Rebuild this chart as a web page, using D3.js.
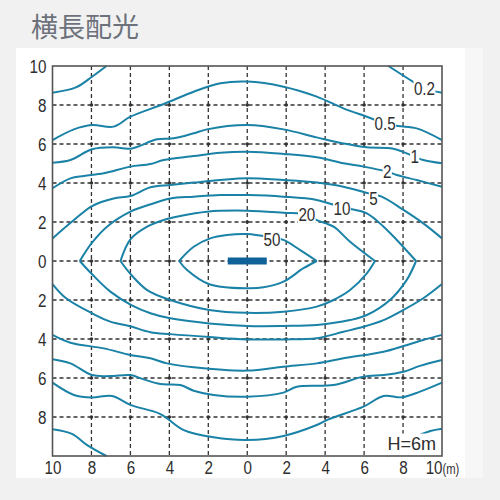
<!DOCTYPE html>
<html><head><meta charset="utf-8">
<script src="https://cdn.jsdelivr.net/npm/d3@7"></script>
<style>
html,body{margin:0;padding:0;background:#f1f1f2;}
svg{display:block;}
</style></head>
<body>
<svg id="chart" width="500" height="500"></svg>
<script>
// ---- data ----
const title = "横長配光";
const xTicks = [-10,-8,-6,-4,-2,0,2,4,6,8,10];
const yTicks = [10,8,6,4,2,0,-2,-4,-6,-8];
const levels = ["0.2","0.5","1","2","5","10","20","50"];
const luminaire = [-1, 1];
const heightNote = "H=6m";

const c02 = [
  [[-10,8.63],[-8.8,8.9],[-7.97,9.45],[-7.23,10]],
  [[7.25,10],[8.5,9.2],[9.1,8.85],[10,8.63]],
  [[-10,-8.63],[-9.0,-8.87],[-8.22,-9.44],[-7.23,-10]],
  [[7.23,-10],[7.85,-9.55],[8.6,-9.05],[9.4,-8.72],[10,-8.6]]
];
const c05 = [
  [[-10,6.2],[-8.9,6.75],[-7.97,6.97],[-6.86,6.89],[-6,7.4],[-4.29,8.05],[-2.75,8.68],[-1.38,9.11],[0,9.2],[1.86,8.94],[3.57,8.43],[4.94,7.83],[6.14,7.4],[7.08,7.06],[7.76,6.92],[8.7,6.8],[10,6.2]],
  [[-10,-6.24],[-8.9,-6.87],[-7.97,-7.0],[-6.94,-6.92],[-6,-7.38],[-4.46,-7.85],[-3.26,-8.67],[-1.73,-9.04],[0,-9.18],[1.86,-8.97],[3.57,-8.41],[4.17,-8.12],[5.97,-7.47],[7.0,-6.92],[7.93,-6.99],[8.87,-6.7],[10,-6.24]]
];
const c1 = [
  [[-10,5.04],[-9.08,5.18],[-7.97,5.73],[-6.86,5.83],[-6,5.76],[-4.63,6.24],[-3.78,6.29],[-2.75,6.55],[-2.07,6.75],[0,6.97],[1.86,6.75],[3.57,6.34],[4.94,6.03],[6.14,5.83],[7.5,5.76],[8.6,5.35],[9.04,5.18],[10,5.01]],
  [[-10,-5.04],[-9.08,-5.25],[-7.97,-5.85],[-7.03,-5.9],[-6,-5.85],[-5.32,-6.07],[-4.46,-6.31],[-3.44,-6.36],[-2.75,-6.65],[-1.73,-6.87],[0,-6.96],[1.86,-6.75],[2.55,-6.45],[4.43,-6.36],[5.97,-5.93],[7.0,-5.85],[8.02,-5.68],[8.87,-5.38],[10,-5.08]]
];
const c2 = [
  [[-10,3.73],[-9.08,4.24],[-8.39,4.36],[-7.37,4.5],[-6,4.84],[-4.97,4.97],[-4.29,5.18],[-2.75,5.38],[-1.38,5.55],[0,5.6],[1.86,5.49],[3.57,5.32],[4.94,5.01],[5.97,4.84],[7.19,4.58],[7.68,4.41],[8.7,4.15],[10,3.81]],
  [[-10,-3.79],[-9.08,-4.19],[-7.37,-4.48],[-6,-4.82],[-4.97,-4.99],[-4.12,-5.25],[-2.75,-5.45],[0,-5.62],[1.86,-5.42],[3.57,-5.25],[4.94,-4.99],[7,-4.65],[8.02,-4.36],[9.04,-4.05],[10,-3.79]]
];
const c5 = [
  [[-10,1.16],[-8.9,2.1],[-7.97,2.82],[-6.86,3.21],[-6,3.33],[-4.97,3.78],[-3.95,3.9],[-2.75,4.02],[-1.38,4.15],[0,4.24],[1.86,4.15],[3.57,4.02],[4.94,3.81],[6.1,3.5],[6.9,3.3],[8.02,2.62],[9.04,1.93],[10,1.16]],
  [[-10,-1.18],[-9.3,-1.91],[-7.97,-2.68],[-7.03,-3.11],[-6,-3.35],[-4.97,-3.65],[-3.95,-3.75],[-1.95,-3.9],[0,-4.02],[1.86,-4.02],[3.57,-3.96],[4.94,-3.63],[5.97,-3.37],[7,-3.03],[8.02,-2.51],[9.04,-1.91],[10,-1.18]]
];
const c10 = [
  [[-8.6,0],[-7.97,0.94],[-7.2,1.76],[-6,2.53],[-4.8,2.96],[-3.95,3.21],[-2.75,3.3],[-1.38,3.38],[0,3.38],[1.86,3.3],[3.57,3.13],[4.86,2.75],[5.37,2.65],[6.14,2.44],[7,1.76],[7.68,1.08],[8.67,0]],
  [[-8.6,0],[-7.93,-0.72],[-7.03,-1.57],[-5.95,-2.26],[-4.97,-2.68],[-3.95,-2.94],[-1.95,-3.2],[0,-3.33],[1.86,-3.33],[3.57,-3.28],[5.28,-3.03],[6.14,-2.77],[7.33,-2],[8.19,-0.97],[8.67,0]]
];
const c20 = [
  [[-6.51,0],[-6,1.11],[-5.14,1.76],[-4.29,2.1],[-3.44,2.31],[-2.07,2.53],[0,2.58],[1.86,2.48],[3.06,2.39],[3.57,2.1],[4.43,1.76],[5.28,0.99],[6.56,0]],
  [[-6.51,0],[-5.95,-0.72],[-5.14,-1.49],[-3.95,-2.0],[-1.95,-2.51],[0,-2.66],[1.86,-2.6],[3.57,-2.34],[4.43,-2.0],[5.28,-1.49],[6.14,-0.63],[6.56,0]]
];
const c50 = [
  [[-3.5,0],[-2.75,0.73],[-1.9,1.16],[-1.04,1.33],[0,1.38],[1.27,1.2],[1.86,1.08],[2.72,0.56],[3.57,0]],
  [[-3.5,0],[-3.09,-0.46],[-1.95,-1.19],[0,-1.4],[0.84,-1.35],[1.86,-1.06],[2.89,-0.37],[3.57,0]]
];
const contours = [c02, c05, c1, c2, c5, c10, c20, c50];
const labelX = [9.1, 7.08, 8.6, 7.19, 6.48, 4.86, 3.06, 1.27];
const labelY = [8.85, 7.06, 5.35, 4.58, 3.21, 2.72, 2.39, 1.11];

// ---- drawing ----
const svg = d3.select("#chart");
const W = 500, H = 500;
const margin = {left: 52.5, right: 58, top: 66, bottom: 44};
const x = d3.scaleLinear().domain([-10,10]).range([margin.left, W - margin.right]);
const y = d3.scaleLinear().domain([-10,10]).range([H - margin.bottom, margin.top]);
const font = "'Liberation Sans',Arial,sans-serif";
const SX = 0.8;
const lineCol = "#1a82a6";
const textCol = "#2e2e2e";

svg.append("rect").attr("x",0).attr("y",0).attr("width",W).attr("height",H).attr("fill","#f1f1f2");
svg.append("rect").attr("x",465).attr("y",48).attr("width",18).attr("height",430).attr("fill","#f7f7f8");
svg.append("rect").attr("x",16).attr("y",48).attr("width",449).attr("height",430).attr("fill","#ffffff");

svg.append("text").attr("x",31).attr("y",37)
  .attr("font-family","'Noto Sans CJK JP','Noto Sans CJK SC',sans-serif")
  .attr("font-size",27).attr("fill","#6d717b").text(title);

// grid
const grid = svg.append("g");
const gridVals = d3.range(-8, 10, 2);
grid.selectAll("line.v").data(gridVals).join("line")
  .attr("x1", d=>x(d)).attr("x2", d=>x(d)).attr("y1", y(10)).attr("y2", y(-10))
  .attr("stroke","#333").attr("stroke-width",1.3).attr("stroke-dasharray","4,3");
grid.selectAll("line.h").data(gridVals).join("line")
  .attr("y1", d=>y(d)).attr("y2", d=>y(d)).attr("x1", x(-10)).attr("x2", x(10))
  .attr("stroke","#333").attr("stroke-width",1.3).attr("stroke-dasharray","4,3");
const pts = [];
gridVals.forEach(a=>gridVals.forEach(b=>pts.push([a,b])));
grid.selectAll("circle").data(pts).join("circle")
  .attr("cx", d=>x(d[0])).attr("cy", d=>y(d[1])).attr("r",1.8).attr("fill","#333");

// contours
const line = d3.line().x(d=>x(d[0])).y(d=>y(d[1])).curve(d3.curveCatmullRom.alpha(0.5));
const cg = svg.append("g");
contours.forEach(level => {
  cg.selectAll(null).data(level).join("path")
    .attr("d", line).attr("fill","none").attr("stroke",lineCol)
    .attr("stroke-width",2).attr("stroke-linejoin","round");
});

// luminaire
svg.append("rect").attr("x", x(luminaire[0])).attr("y", y(0)-3.5)
  .attr("width", x(luminaire[1]) - x(luminaire[0])).attr("height", 7).attr("fill","#0f6199");

// contour labels
const lg = svg.append("g");
levels.forEach((t,i) => {
  const g = lg.append("g").attr("transform", `translate(${x(labelX[i])},${y(labelY[i])}) scale(${SX},1)`);
  const txt = g.append("text").attr("x", 0).attr("y", 0)
    .attr("text-anchor","middle").attr("dominant-baseline","central")
    .attr("font-family", font).attr("font-size",19).attr("fill",textCol).text(t);
  const b = txt.node().getBBox();
  g.insert("rect","text").attr("x", b.x-0.5).attr("y", b.y+2.5).attr("width", b.width+1).attr("height", b.height-5).attr("fill","#fff");
});

// H=6m note
const hx = x(10)-6, hy = y(-10)-6, hs = 0.95;
const hg = svg.append("g").attr("transform", `translate(${hx},${hy}) scale(${hs},1)`);
const ht = hg.append("text").attr("x", 0).attr("y", 0).attr("text-anchor","end")
  .attr("font-family", font).attr("font-size",19).attr("fill",textCol).text(heightNote);
const hb = ht.node().getBBox();
hg.insert("rect","text").attr("x", hb.x-2).attr("y", hb.y+1).attr("width", -hb.x + 2 + 5/hs).attr("height", 6 - hb.y - 1).attr("fill","#fff");

// frame
svg.append("rect").attr("x", x(-10)).attr("y", y(10)).attr("width", x(10)-x(-10)).attr("height", y(-10)-y(10))
  .attr("fill","none").attr("stroke","#555").attr("stroke-width",1.6);

// axes labels
const yAxis = d3.axisLeft(y).tickValues(yTicks).tickSize(0).tickPadding(6).tickFormat(d=>Math.abs(d));
const ya = svg.append("g").attr("transform",`translate(${x(-10)},0)`).call(yAxis);
ya.select(".domain").remove();
ya.selectAll("text").attr("font-family", font).attr("font-size",19).attr("fill",textCol)
  .attr("transform", `scale(${SX},1)`).attr("x", -6/SX);

const xAxis = d3.axisBottom(x).tickValues(xTicks).tickSize(0).tickPadding(5).tickFormat(d=>Math.abs(d));
const xa = svg.append("g").attr("transform",`translate(0,${y(-10)})`).call(xAxis);
xa.select(".domain").remove();
xa.selectAll("text").attr("font-family", font).attr("font-size",19).attr("fill",textCol)
  .attr("transform", `scale(${SX},1)`);
xa.selectAll(".tick").filter(d=>d===10).select("text")
  .text(null).call(t=>{ t.append("tspan").text("10"); t.append("tspan").attr("font-size",14).text("(m)"); });
</script>
</body></html>
